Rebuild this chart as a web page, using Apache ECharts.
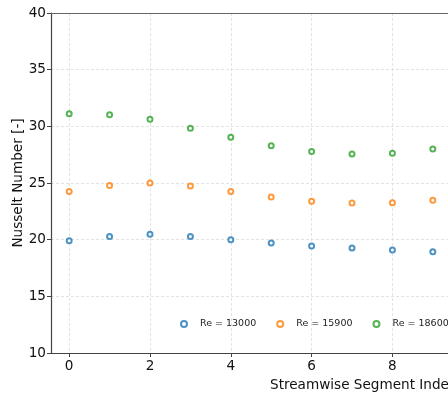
<!DOCTYPE html>
<html>
<head>
<meta charset="utf-8">
<script src="https://cdn.jsdelivr.net/npm/echarts@6/dist/echarts.min.js"></script>
<style>html,body{margin:0;padding:0;background:#fff}#c{width:448px;height:396px}</style>
</head>
<body>
<div id="c"></div>
<script>
const segments = [0, 1, 2, 3, 4, 5, 6, 7, 8, 9];
const seriesNames = ['Re = 13000', 'Re = 15900', 'Re = 18600'];
const nu13000 = [19.91, 20.29, 20.47, 20.29, 20.0, 19.71, 19.44, 19.26, 19.09, 18.94];
const nu15900 = [24.26, 24.79, 25.0, 24.74, 24.26, 23.76, 23.38, 23.24, 23.26, 23.47];
const nu18600 = [31.12, 31.03, 30.62, 29.82, 29.03, 28.29, 27.79, 27.56, 27.62, 28.0];
const xTicks = [0, 2, 4, 6, 8];
const yTicks = [10, 15, 20, 25, 30, 35, 40];
const colors = ['#1f77b4', '#ff7f0e', '#2ca02c'];
const allValues = [nu13000, nu15900, nu18600];

const font = 'DejaVu Sans';
const chart = echarts.init(document.getElementById('c'), null, {renderer: 'canvas'});
chart.setOption({
  animation: false,
  backgroundColor: '#fff',
  grid: {left: 51, top: 13, right: -3, bottom: 43, show: false, containLabel: false, outerBoundsMode: 'none'},
  xAxis: [{
    type: 'value', min: -0.45, max: 9.45,
    axisLine: {show: true, onZero: false, lineStyle: {color: '#444', width: 1.2}},
    axisTick: {show: true, length: 4, lineStyle: {color: '#444'}, customValues: xTicks},
    axisLabel: {color: '#111', fontFamily: font, fontSize: 13.6, margin: 6, customValues: xTicks},
    splitLine: {show: true, lineStyle: {color: '#dcdcdc', type: [3, 2], width: 0.8}}
  }, {
    type: 'value', position: 'top', min: -0.45, max: 9.45,
    axisLine: {show: true, onZero: false, lineStyle: {color: '#666', width: 1.2}},
    axisTick: {show: false}, axisLabel: {show: false}, splitLine: {show: false}
  }],
  yAxis: {
    type: 'value', min: yTicks[0], max: yTicks[yTicks.length - 1], interval: 5,
    name: 'Nusselt Number [-]', nameLocation: 'middle', nameGap: 26, nameMoveOverlap: false,
    nameTextStyle: {color: '#111', fontFamily: font, fontSize: 13.6},
    axisLine: {show: true, onZero: false, lineStyle: {color: '#444', width: 1.2}},
    axisTick: {show: true, length: 4, lineStyle: {color: '#444'}},
    axisLabel: {color: '#111', fontFamily: font, fontSize: 13.6, margin: 5},
    splitLine: {show: true, lineStyle: {color: '#dcdcdc', type: [3, 2], width: 0.8}}
  },
  legend: {
    left: 175, top: 314, width: 400, itemWidth: 6, itemHeight: 6, itemGap: 20,
    textStyle: {color: '#222', fontFamily: font, fontSize: 9.5, padding: [0, 0, 0, 8]},
    data: seriesNames.map(n => ({name: n, icon: 'emptyCircle'}))
  },
  graphic: [{
    type: 'text', left: 270, top: 378,
    style: {text: 'Streamwise Segment Index', fill: '#111', font: '13.6px "DejaVu Sans"'}
  }],
  series: seriesNames.map((n, i) => ({
    name: n, type: 'scatter', symbol: 'emptyCircle', symbolSize: 5,
    itemStyle: {color: colors[i], borderColor: colors[i], borderWidth: 1},
    data: segments.map((s, j) => [s, allValues[i][j]])
  }))
});
</script>
</body>
</html>
